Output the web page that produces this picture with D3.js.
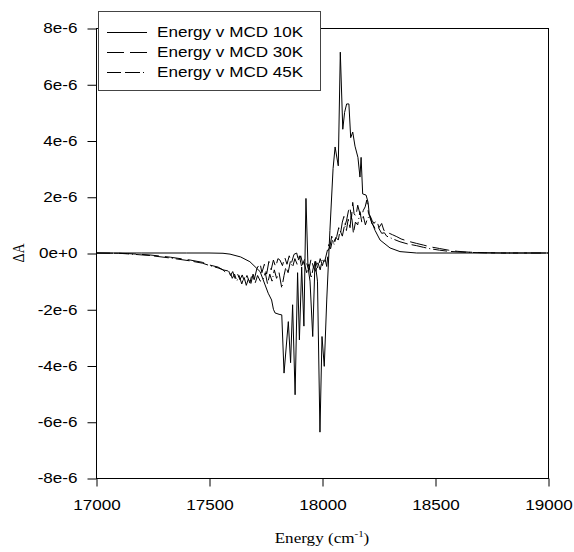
<!DOCTYPE html>
<html>
<head>
<meta charset="utf-8">
<script src="https://cdn.jsdelivr.net/npm/d3@7"></script>
<style>
  body { margin: 0; background: #fff; }
  svg { display: block; }
</style>
</head>
<body>
<div id="chart"></div>
<script>
// Energy (cm^-1) and MCD (in units of 1e-6)
const energy10K = [17000, 17200, 17400, 17500, 17562, 17593, 17640, 17681, 17726, 17740, 17762, 17777, 17785, 17792, 17810, 17822, 17832, 17851, 17861, 17870, 17881, 17892, 17900, 17910, 17920, 17929, 17938, 17947, 17959, 17969, 17980, 17991, 18000, 18010, 18021, 18035, 18049, 18058, 18072, 18081, 18092, 18100, 18109, 18119, 18127, 18136, 18146, 18159, 18168, 18173, 18180, 18195, 18204, 18210, 18235, 18257, 18301, 18345, 18419, 18522, 19000];
const mcd10K = [0, 0, 0, 0, -0.01, -0.04, -0.14, -0.31, -0.66, -0.96, -1.43, -1.67, -2.0, -2.13, -2.18, -2.2, -4.27, -2.44, -3.9, -1.84, -5.04, -0.7, -3.09, -0.5, -2.6, 1.94, -0.5, -1.0, -2.97, -0.3, -1.0, -6.37, -2.97, -4.03, -1.67, 0.8, 3.0, 3.77, 3.1, 7.14, 4.4, 5.0, 5.3, 5.3, 4.1, 4.3, 3.8, 3.4, 2.7, 3.4, 2.1, 2.06, 1.8, 1.3, 0.8, 0.46, 0.18, 0.05, 0.0, 0, 0];

const energy30K = [17000, 17100, 17140, 17239, 17330, 17416, 17470, 17504, 17540, 17562, 17575, 17585, 17595, 17605, 17615, 17625, 17637, 17647, 17657, 17668, 17681, 17690, 17700, 17712, 17726, 17734, 17745, 17755, 17765, 17775, 17785, 17795, 17805, 17814, 17825, 17835, 17845, 17855, 17865, 17876, 17888, 17897, 17906, 17915, 17924, 17932, 17942, 17952, 17962, 17972, 17982, 17992, 18002, 18012, 18021, 18028, 18035, 18043, 18050, 18058, 18065, 18074, 18082, 18090, 18097, 18103, 18109, 18117, 18124, 18130, 18136, 18142, 18150, 18158, 18166, 18175, 18183, 18191, 18198, 18206, 18214, 18222, 18230, 18242, 18252, 18264, 18274, 18286, 18298, 18312, 18331, 18350, 18380, 18419, 18450, 18478, 18520, 18560, 18600, 18650, 18720, 18800, 19000];
const mcd30K = [0, -0.01, -0.02, -0.07, -0.15, -0.25, -0.33, -0.43, -0.5, -0.6, -0.7, -0.6, -0.8, -0.66, -0.9, -0.72, -0.95, -0.78, -1.02, -0.8, -1.07, -0.75, -0.95, -0.55, -0.36, -0.7, -0.4, -0.75, -0.3, -0.6, -0.25, -0.5, -0.2, -0.25, -0.45, -0.15, -0.4, -0.1, -0.35, -0.05, 0.0, -0.3, -0.1, -0.4, -0.2, -0.36, -0.6, -0.2, -0.5, -0.3, -0.55, -0.2, -0.45, -0.15, -0.48, 0.1, 0.22, 0.6, 0.35, 0.5, 0.58, 0.9, 0.7, 1.1, 1.3, 1.0, 1.17, 1.5, 1.64, 1.2, 1.8, 1.4, 1.3, 1.7, 1.45, 1.3, 1.52, 1.64, 1.88, 1.4, 1.3, 1.15, 1.05, 1.17, 0.9, 1.05, 0.8, 0.82, 0.7, 0.65, 0.58, 0.5, 0.42, 0.34, 0.28, 0.22, 0.16, 0.1, 0.06, 0.03, 0.01, 0, 0];

const energy45K = [17000, 17100, 17140, 17239, 17330, 17416, 17470, 17504, 17540, 17562, 17580, 17593, 17603, 17613, 17623, 17633, 17645, 17655, 17665, 17675, 17685, 17695, 17705, 17715, 17727, 17739, 17749, 17759, 17769, 17779, 17789, 17799, 17810, 17822, 17832, 17840, 17850, 17860, 17870, 17880, 17890, 17900, 17910, 17920, 17932, 17942, 17952, 17962, 17972, 17982, 17992, 18002, 18012, 18021, 18030, 18038, 18046, 18054, 18062, 18072, 18080, 18090, 18100, 18108, 18116, 18124, 18130, 18139, 18148, 18158, 18168, 18176, 18183, 18192, 18200, 18212, 18220, 18227, 18236, 18250, 18264, 18276, 18286, 18300, 18320, 18345, 18380, 18419, 18450, 18480, 18520, 18560, 18620, 18700, 18800, 19000];
const mcd45K = [0, -0.01, -0.03, -0.09, -0.18, -0.28, -0.36, -0.45, -0.53, -0.6, -0.63, -0.66, -0.9, -0.75, -1.0, -0.8, -1.1, -0.85, -1.15, -0.9, -1.1, -0.75, -1.05, -0.8, -1.0, -0.96, -0.7, -1.1, -0.75, -1.0, -0.6, -0.9, -0.7, -1.25, -0.8, -0.5, -0.7, -0.3, -0.5, -0.2, -0.4, -0.1, -0.5, -0.3, -0.7, -0.4, -0.9, -0.5, -0.65, -0.35, -0.6, -0.2, -0.3, 0.0, 0.3, 0.15, 0.45, 0.3, 0.55, 0.46, 0.8, 0.6, 1.0, 0.8, 1.2, 0.9, 1.4, 0.7, 1.1, 1.0, 1.47, 1.1, 1.3, 1.0, 1.2, 1.35, 1.05, 0.99, 0.85, 0.9, 0.7, 0.72, 0.6, 0.55, 0.48, 0.4, 0.32, 0.26, 0.2, 0.15, 0.1, 0.06, 0.03, 0.01, 0, 0];

const seriesNames = ['Energy v MCD 10K', 'Energy v MCD 30K', 'Energy v MCD 45K'];
const xTicks = [17000, 17500, 18000, 18500, 19000];
const yTicks = [-8e-6, -6e-6, -4e-6, -2e-6, 0, 2e-6, 4e-6, 6e-6, 8e-6];
const yTickLabels = ['-8e-6', '-6e-6', '-4e-6', '-2e-6', '0e+0', '2e-6', '4e-6', '6e-6', '8e-6'];

const width = 574, height = 552;
const margin = { top: 28, right: 26, bottom: 74, left: 96 };
const stretch = 1.22; // text in the picture is wider than tall

const svg = d3.select('#chart').append('svg')
    .attr('width', width)
    .attr('height', height);

const x = d3.scaleLinear().domain([17000, 19000]).range([margin.left, width - margin.right]);
const y = d3.scaleLinear().domain([-8e-6, 8e-6]).range([height - margin.bottom, margin.top]);

// widen a text element horizontally, keeping its anchor
function widen(sel) {
    sel.each(function() {
        const w = this.getComputedTextLength();
        d3.select(this)
            .attr('textLength', w * stretch)
            .attr('lengthAdjust', 'spacingAndGlyphs');
    });
}

// frame
svg.append('rect')
    .attr('x', margin.left + 0.5)
    .attr('y', margin.top + 0.5)
    .attr('width', width - margin.left - margin.right)
    .attr('height', height - margin.top - margin.bottom)
    .attr('fill', 'none')
    .attr('stroke', '#000')
    .attr('stroke-width', 1);

// axes
const xAxis = svg.append('g')
    .attr('transform', `translate(0.5,${height - margin.bottom + 0.5})`)
    .call(d3.axisBottom(x).tickValues(xTicks).tickFormat(d3.format('d')).tickSize(8).tickPadding(14));

const yAxis = svg.append('g')
    .attr('transform', `translate(${margin.left + 0.5},0.5)`)
    .call(d3.axisLeft(y).tickValues(yTicks).tickFormat((d, i) => yTickLabels[i]).tickSize(9).tickPadding(10));

[xAxis, yAxis].forEach(a => {
    a.select('.domain').remove();
    a.selectAll('line').attr('stroke', '#000').attr('stroke-width', 1);
    a.selectAll('text')
        .attr('font-family', 'Liberation Sans, Arial, sans-serif')
        .attr('font-size', 14)
        .attr('fill', '#000')
        .call(widen);
});

// axis titles
svg.append('text')
    .attr('transform', `translate(${(margin.left + width - margin.right) / 2},543) scale(${stretch},1)`)
    .attr('text-anchor', 'middle')
    .attr('font-family', 'Liberation Serif, Times New Roman, serif')
    .attr('font-size', 14)
    .html('Energy (cm<tspan dy="-6" font-size="9">-1</tspan><tspan dy="6">)</tspan>');

svg.append('text')
    .attr('transform', `translate(24,${y(0)}) rotate(-90) scale(1,${stretch})`)
    .attr('text-anchor', 'middle')
    .attr('font-family', 'Liberation Serif, Times New Roman, serif')
    .attr('font-size', 14)
    .text('\u0394A');

// series
const series = [
    { name: seriesNames[0], xs: energy10K, ys: mcd10K, dash: null },
    { name: seriesNames[1], xs: energy30K, ys: mcd30K, dash: '17,6' },
    { name: seriesNames[2], xs: energy45K, ys: mcd45K, dash: '14,4,15,3,1,3' }
];

const line = d3.line()
    .x(d => x(d[0]))
    .y(d => y(d[1] * 1e-6));

const plot = svg.append('g');
series.forEach(s => {
    plot.append('path')
        .datum(s.xs.map((e, i) => [e, s.ys[i]]))
        .attr('fill', 'none')
        .attr('stroke', '#000')
        .attr('stroke-width', 1)
        .attr('stroke-dasharray', s.dash)
        .attr('d', line);
});

// legend
const legend = svg.append('g');
legend.append('rect')
    .attr('x', 98.5)
    .attr('y', 11.5)
    .attr('width', 222)
    .attr('height', 79)
    .attr('fill', '#fff')
    .attr('stroke', '#444')
    .attr('stroke-width', 1);

series.forEach((s, i) => {
    const ly = 32 + i * 20;
    legend.append('line')
        .attr('x1', 107).attr('x2', 147)
        .attr('y1', ly + 0.5).attr('y2', ly + 0.5)
        .attr('stroke', '#000')
        .attr('stroke-width', 1)
        .attr('stroke-dasharray', s.dash);
    legend.append('text')
        .attr('x', 157)
        .attr('y', ly + 5)
        .attr('font-family', 'Liberation Sans, Arial, sans-serif')
        .attr('font-size', 14)
        .text(s.name)
        .call(widen);
});
</script>
</body>
</html>
